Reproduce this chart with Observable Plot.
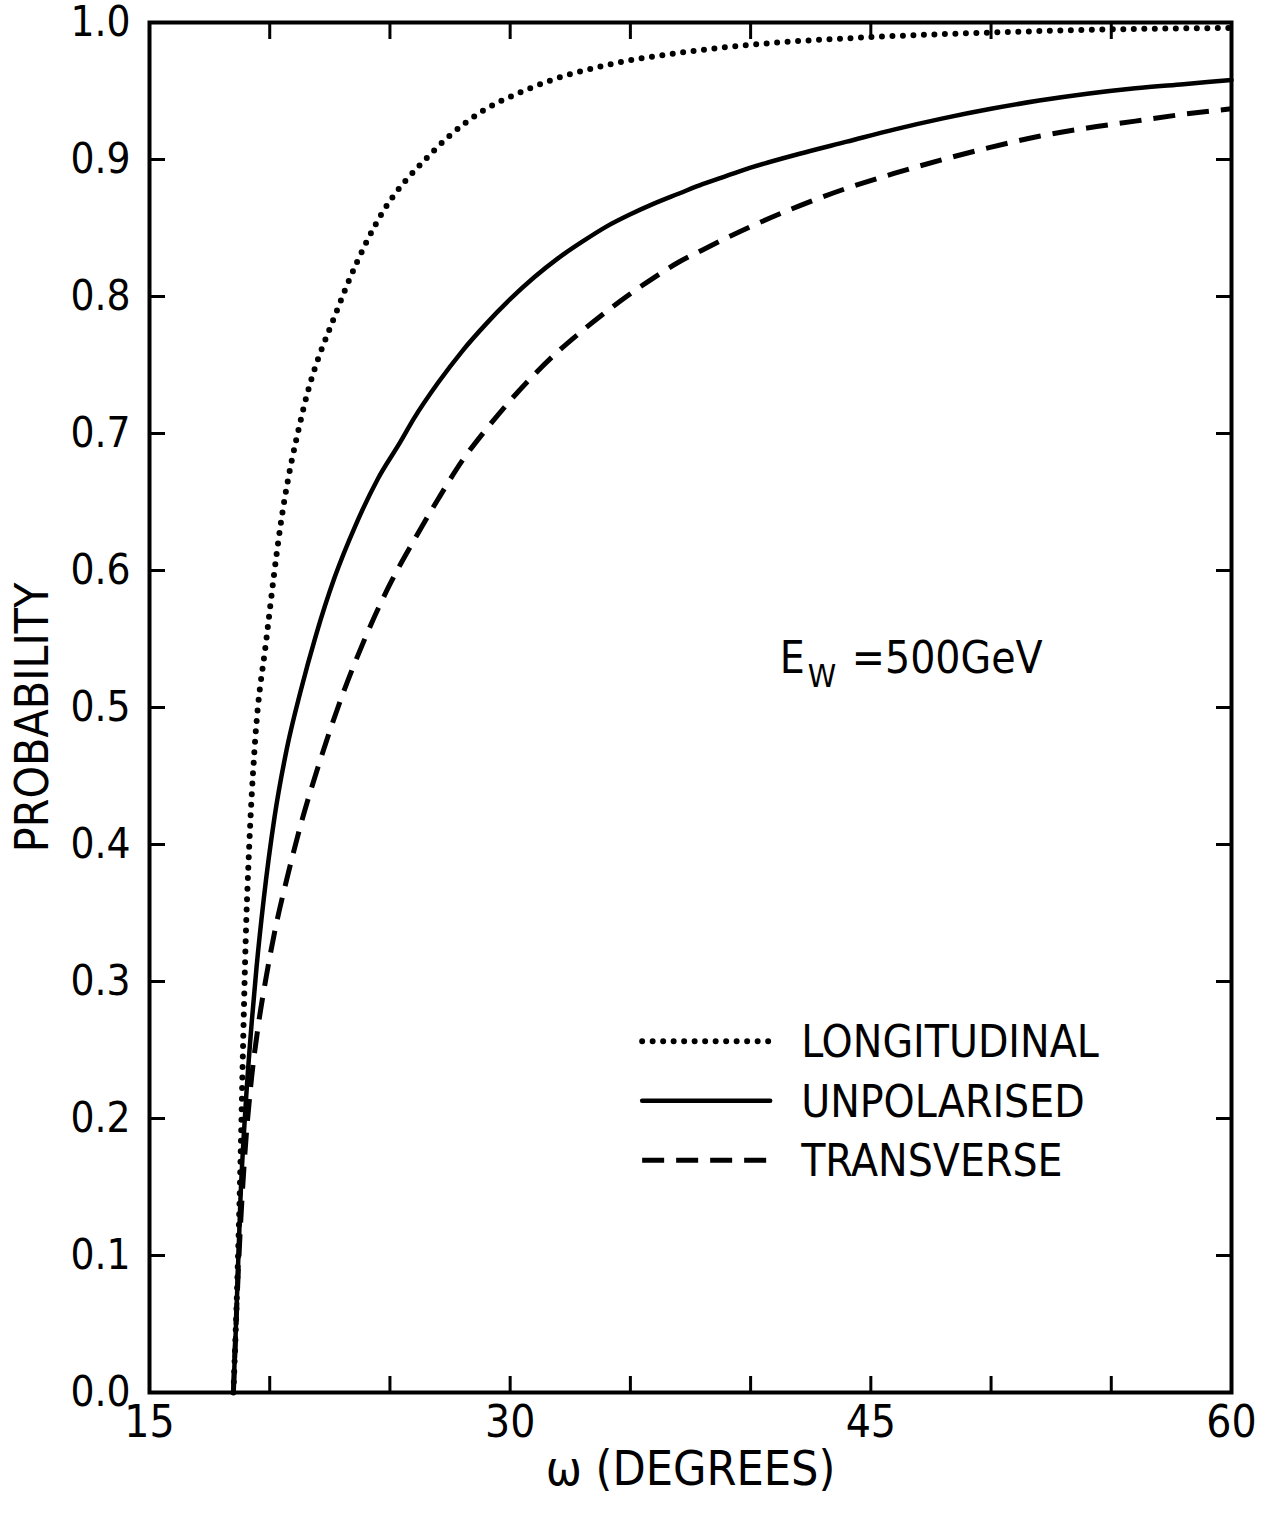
<!DOCTYPE html>
<html><head><meta charset="utf-8">
<script src="https://cdn.jsdelivr.net/npm/d3@7"></script>
<script src="https://cdn.jsdelivr.net/npm/@observablehq/plot@0.6"></script>
<style>
html,body{margin:0;padding:0;background:#fff;}
#chart{width:1266px;height:1515px;}
</style></head><body><div id="chart"></div>
<script>
// ---- data ----
const longW = [18.49, 18.65, 18.8, 18.9, 19.0, 19.15, 19.37, 19.87, 20.45, 21.36, 22.8, 24.48, 26.69, 28.23, 30.97, 34.3, 37.09, 40.83, 44.62, 50.61, 55, 60];
const longP = [0, 0.08, 0.18, 0.26, 0.33, 0.40, 0.47, 0.551, 0.633, 0.715, 0.79, 0.855, 0.904, 0.928, 0.953, 0.970, 0.978, 0.985, 0.989, 0.993, 0.995, 0.996];

const unpolW = [18.49, 18.62, 18.78, 19.0, 19.25, 19.45, 19.75, 20.2, 20.7, 21.3, 21.91, 22.7, 23.57, 24.5, 25.44, 26, 27, 28, 29, 30, 31, 32, 33, 34, 35, 36, 37, 38, 39, 40, 42, 44, 46, 48, 50, 52, 54, 56, 58, 60];
const unpolP = [0, 0.06, 0.14, 0.21, 0.27, 0.31, 0.36, 0.42, 0.469, 0.513, 0.552, 0.595, 0.633, 0.667, 0.694, 0.711, 0.737, 0.760, 0.780, 0.798, 0.814, 0.828, 0.840, 0.851, 0.860, 0.868, 0.875, 0.882, 0.888, 0.894, 0.904, 0.913, 0.922, 0.930, 0.937, 0.943, 0.948, 0.952, 0.955, 0.958];

const transW = [18.49, 18.6, 18.75, 18.95, 19.2, 19.5, 19.85, 20.25, 20.7, 21.3, 22, 23, 24, 25, 26, 27, 28, 29, 30, 31, 32, 33, 34, 35, 36, 37, 38, 40, 42, 44, 46, 48, 50, 52, 54, 56, 58, 60];
const transP = [0, 0.05, 0.11, 0.17, 0.222, 0.265, 0.303, 0.34, 0.374, 0.415, 0.456, 0.508, 0.552, 0.590, 0.622, 0.652, 0.680, 0.703, 0.724, 0.743, 0.760, 0.775, 0.789, 0.802, 0.814, 0.825, 0.834, 0.851, 0.866, 0.879, 0.890, 0.900, 0.909, 0.917, 0.923, 0.928, 0.933, 0.937];

const xTicks = [15, 20, 25, 30, 35, 40, 45, 50, 55, 60];
const xTickLabels = [15, 30, 45, 60];
const yTicks = [0, 0.1, 0.2, 0.3, 0.4, 0.5, 0.6, 0.7, 0.8, 0.9, 1.0];

const seriesNames = ["LONGITUDINAL", "UNPOLARISED", "TRANSVERSE"];
const xTitle = "ω (DEGREES)";
const yTitle = "PROBABILITY";
const annotation = {main: "E", sub: "W", rest: "=500GeV"};

// ---- build tables ----
const toRows = (ws, ps) => ws.map((w, i) => ({w, p: ps[i]}));
const longRows = toRows(longW, longP);
const unpolRows = toRows(unpolW, unpolP);
const transRows = toRows(transW, transP);

const FONT = '"Liberation Sans Narrow","DejaVu Sans Condensed","Roboto Condensed",Roboto,sans-serif';
const W = 1266, H = 1515;
const mL = 149, mR = 35, mT = 22, mB = 123;

const styles = [
  {strokeWidth: 6, strokeDasharray: "0,10.5", strokeLinecap: "round"},
  {strokeWidth: 4.5, strokeLinecap: "round"},
  {strokeWidth: 5, strokeDasharray: "22,12", strokeLinecap: "butt"}
];

const plot = Plot.plot({
  width: W, height: H,
  marginLeft: mL, marginRight: mR, marginTop: mT, marginBottom: mB,
  style: {fontFamily: FONT, background: "#fff", color: "#000", overflow: "visible"},
  x: {domain: [15, 60]},
  y: {domain: [0, 1]},
  marks: [
    Plot.axisX(xTicks, {anchor: "bottom", tickSize: -16, fill: "none", strokeWidth: 3, label: null}),
    Plot.axisX(xTicks, {anchor: "top", tickSize: -16, fill: "none", strokeWidth: 3, label: null}),
    Plot.axisX(xTickLabels, {anchor: "bottom", tickSize: 0, tickPadding: 13, fontSize: 44, label: null}),
    Plot.axisY(yTicks, {anchor: "left", tickSize: -16, fill: "none", strokeWidth: 3, label: null}),
    Plot.axisY(yTicks, {anchor: "right", tickSize: -16, fill: "none", strokeWidth: 3, label: null}),
    Plot.axisY(yTicks, {anchor: "left", tickSize: 0, tickPadding: 19, fontSize: 42, tickFormat: d3.format(".1f"), label: null}),
    Plot.frame({strokeWidth: 4}),
    Plot.line(longRows, {x: "w", y: "p", curve: "monotone-x", stroke: "#000", ...styles[0]}),
    Plot.line(unpolRows, {x: "w", y: "p", curve: "monotone-x", stroke: "#000", ...styles[1]}),
    Plot.line(transRows, {x: "w", y: "p", curve: "monotone-x", stroke: "#000", ...styles[2]}),
    Plot.text([xTitle], {frameAnchor: "bottom", dy: 92, fontSize: 48, text: d => d}),
    Plot.text([yTitle], {frameAnchor: "left", textAnchor: "middle", dx: -116, dy: 10, rotate: -90, fontSize: 46, text: d => d})
  ]
});
document.getElementById("chart").appendChild(plot);

// ---- legend and annotation (placed relative to the frame) ----
const svg = d3.select(plot);
const frameW = W - mL - mR, frameH = H - mT - mB;
const lg = svg.append("g").attr("transform", `translate(${mL + 0.453 * frameW},${mT + 0.744 * frameH})`)
  .attr("text-anchor", "start").attr("font-family", FONT);
seriesNames.forEach((name, i) => {
  const yy = i * 59.5;
  const s = styles[i];
  lg.append("line").attr("x1", 3).attr("x2", 131).attr("y1", yy).attr("y2", yy)
    .attr("stroke", "#000").attr("stroke-width", s.strokeWidth)
    .attr("stroke-dasharray", s.strokeDasharray || null)
    .attr("stroke-linecap", s.strokeLinecap);
  lg.append("text").attr("x", 162).attr("y", yy).attr("dy", "0.36em")
    .attr("font-size", 44).text(name);
});
const an = svg.append("g").attr("transform", `translate(${mL + 0.583 * frameW},${mT + 0.475 * frameH})`)
  .attr("font-family", FONT).attr("text-anchor", "start");
an.append("text").attr("x", 0).attr("y", 0).attr("font-size", 44).text(annotation.main);
an.append("text").attr("x", 28).attr("y", 14).attr("font-size", 32).text(annotation.sub);
an.append("text").attr("x", 72).attr("y", 0).attr("font-size", 44).text(annotation.rest);
</script>
</body></html>
